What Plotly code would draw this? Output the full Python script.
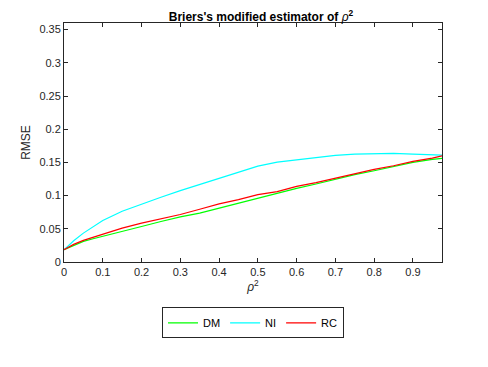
import plotly.graph_objects as go

# rho^2 grid and RMSE values
rho2 = [0, 0.025, 0.05, 0.075, 0.1, 0.15, 0.2, 0.25, 0.3, 0.35, 0.4, 0.45, 0.5,
        0.55, 0.6, 0.65, 0.7, 0.75, 0.8, 0.85, 0.9, 0.95, 0.975]
dm = [0.0185, 0.025, 0.031, 0.035, 0.0385, 0.046, 0.0535, 0.061, 0.068, 0.0735, 0.081, 0.0885, 0.0965,
      0.1035, 0.111, 0.1175, 0.125, 0.1315, 0.1375, 0.144, 0.15, 0.1545, 0.156]
ni = [0.0185, 0.032, 0.0435, 0.0535, 0.0625, 0.0765, 0.0875, 0.0975, 0.1075, 0.1165, 0.1265, 0.1345, 0.1445,
      0.1505, 0.154, 0.1575, 0.1605, 0.1625, 0.1635, 0.1635, 0.1625, 0.1615, 0.161]
rc = [0.0185, 0.0265, 0.0325, 0.037, 0.0415, 0.051, 0.0585, 0.065, 0.0715, 0.0795, 0.0875, 0.094, 0.1015,
      0.106, 0.114, 0.1195, 0.126, 0.1335, 0.1395, 0.145, 0.1515, 0.1565, 0.16]

fig = go.Figure()
fig.add_trace(go.Scatter(x=rho2, y=dm, mode='lines', name='DM', line=dict(color='#00ff00', width=1.2)))
fig.add_trace(go.Scatter(x=rho2, y=ni, mode='lines', name='NI', line=dict(color='#00ffff', width=1.2)))
fig.add_trace(go.Scatter(x=rho2, y=rc, mode='lines', name='RC', line=dict(color='#ff0000', width=1.2)))

axis_col = '#262626'
common = dict(showline=True, linecolor=axis_col, linewidth=1, mirror='ticks', ticks='inside',
              ticklen=4, tickcolor=axis_col, showgrid=False, zeroline=False,
              tickfont=dict(size=11, color=axis_col))

# page has an 8px body margin, so the figure is a bit smaller than the window
fig.update_layout(
    width=480, height=359,
    margin=dict(l=56, r=46, t=15, b=105),
    paper_bgcolor='white', plot_bgcolor='white',
    font=dict(family='Liberation Sans, Arial, sans-serif', color=axis_col),
    title=dict(text="<b>Briers's modified estimator of </b><i>ρ</i><b><sup>2</sup></b>",
               x=0.527, xanchor='center', y=0.975, yanchor='middle', font=dict(size=12, color='black')),
    xaxis=dict(range=[0, 0.975], dtick=0.1, tick0=0,
               title=dict(text='<i>ρ</i><sup>2</sup>', font=dict(size=12), standoff=4), **common),
    yaxis=dict(range=[0, 0.36], dtick=0.05, tick0=0,
               title=dict(text='RMSE', font=dict(size=12), standoff=6), **common),
    legend=dict(orientation='h', x=0.5, xanchor='center', y=-0.19, yanchor='top',
                bordercolor=axis_col, borderwidth=1, font=dict(size=11, color='black'),
                itemwidth=30, tracegroupgap=0),
    showlegend=True,
)

fig.write_html("out.html")
